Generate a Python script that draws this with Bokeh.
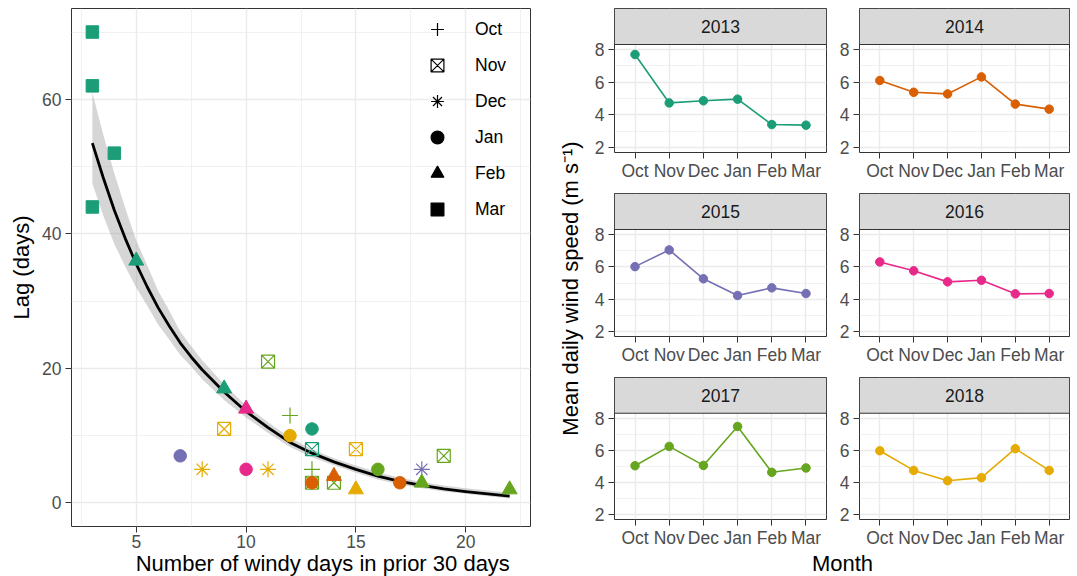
import math
from bokeh.plotting import figure
from bokeh.models import Range1d, FixedTicker, Legend, LegendItem, Label, BoxAnnotation
from bokeh.layouts import row, column
from bokeh.embed import file_html
from bokeh.resources import INLINE

FONT = "Liberation Sans"

# ---------------- data ----------------
years = [2013, 2014, 2015, 2016, 2017, 2018]
months = ["Oct", "Nov", "Dec", "Jan", "Feb", "Mar"]
year_colors = ["#1B9E77", "#D95F02", "#7570B3", "#E7298A", "#66A61E", "#E6AB02"]

# left panel: lag vs windy days
lag_windy = [3, 3, 4, 3, 5, 9, 11, 10, 12, 9, 12, 13, 13, 15, 7, 19, 8, 10, 11, 13,
             16, 18, 14, 13, 13, 14, 15, 17, 18, 22]
lag_days = [70, 62, 52, 44, 36, 17, 21, 14, 13, 11, 10, 11, 8, 8, 7, 7, 5, 5, 5, 5,
            5, 5, 4, 3, 3, 3, 2, 3, 3, 2]
lag_year = [2013, 2013, 2013, 2013, 2013, 2013, 2017, 2016, 2017, 2018, 2018, 2013, 2013, 2018,
            2015, 2017, 2018, 2016, 2018, 2017, 2017, 2015, 2014, 2014, 2017, 2017, 2018, 2014,
            2017, 2017]
lag_month = ["Mar", "Mar", "Mar", "Mar", "Feb", "Feb", "Nov", "Feb", "Oct", "Nov", "Jan", "Jan",
             "Nov", "Nov", "Jan", "Nov", "Dec", "Jan", "Dec", "Oct", "Jan", "Dec", "Feb", "Jan",
             "Nov", "Nov", "Feb", "Jan", "Feb", "Feb"]

# fitted curve and confidence band
fit_windy = [3, 3.5, 4, 4.5, 5, 5.5, 6, 6.5, 7, 7.5, 8, 9, 10, 11, 12, 13, 14, 15, 16, 17,
             18, 19, 20, 21, 22]
fit_lag = [53.5, 48.3, 43.5, 39.3, 35.5, 32.1, 29.0, 26.3, 23.8, 21.7, 19.8, 16.5, 13.6, 11.2,
           9.0, 7.4, 6.1, 5.0, 4.0, 3.2, 2.6, 2.1, 1.7, 1.35, 1.0]
fit_upper = [61.0, 54.7, 49.0, 43.8, 39.0, 35.3, 31.5, 28.6, 25.5, 23.3, 21.2, 17.6, 14.5, 12.0,
             9.7, 8.0, 6.65, 5.55, 4.55, 3.75, 3.1, 2.6, 2.2, 1.85, 1.5]
fit_lower = [47.5, 42.7, 38.5, 35.1, 32.0, 29.3, 26.5, 24.3, 22.0, 20.3, 18.4, 15.3, 12.7, 10.4,
             8.3, 6.8, 5.6, 4.5, 3.5, 2.75, 2.2, 1.7, 1.35, 1.0, 0.65]

# right panels: mean daily wind speed by month
wind_2013 = [7.69, 4.73, 4.86, 4.96, 3.41, 3.37]
wind_2014 = [6.10, 5.38, 5.28, 6.32, 4.66, 4.35]
wind_2015 = [6.01, 7.04, 5.26, 4.23, 4.70, 4.35]
wind_2016 = [6.30, 5.75, 5.07, 5.17, 4.33, 4.35]
wind_2017 = [5.04, 6.24, 5.06, 7.48, 4.63, 4.90]
wind_2018 = [5.97, 4.75, 4.11, 4.30, 6.10, 4.75]
wind_all = [wind_2013, wind_2014, wind_2015, wind_2016, wind_2017, wind_2018]

# ---------------- styles ----------------
marker_style = {
    "Oct": ("cross", 16, False),
    "Nov": ("square_x", 13, False),
    "Dec": ("asterisk", 16, False),
    "Jan": ("circle", 12.5, True),
    "Feb": ("triangle", 15, True),
    "Mar": ("square", 12.5, True),
}
color_of = dict(zip(years, year_colors))
TICK_FS = "17.5px"
TITLE_FS = "22px"


def style_axes(p, xt, xminor, yt, yminor):
    p.xaxis.ticker = FixedTicker(ticks=xt, minor_ticks=xminor)
    p.yaxis.ticker = FixedTicker(ticks=yt, minor_ticks=yminor)
    for ax in p.axis:
        ax.axis_line_color = None
        ax.major_tick_line_color = "#333333"
        ax.major_tick_line_width = 1
        ax.major_tick_out = 6
        ax.major_tick_in = 0
        ax.minor_tick_line_color = None
        ax.major_label_text_font = FONT
        ax.major_label_text_font_size = TICK_FS
        ax.major_label_text_color = "#4D4D4D"
        ax.major_label_standoff = 4
        ax.axis_label_text_font = FONT
        ax.axis_label_text_font_size = TITLE_FS
        ax.axis_label_text_font_style = "normal"
        ax.axis_label_text_color = "black"
    p.xaxis.major_label_standoff = 2
    for g in p.grid:
        g.grid_line_color = "#EBEBEB"
        g.grid_line_width = 1.4
        g.minor_grid_line_color = "#EBEBEB"
        g.minor_grid_line_width = 0.7
    p.outline_line_color = "#333333"
    p.outline_line_width = 1
    p.background_fill_color = "white"
    p.border_fill_color = "white"


def text_fig(w, h, lab):
    f = figure(width=w, height=h, x_range=Range1d(0, w), y_range=Range1d(0, h),
               output_backend="svg", toolbar_location=None, x_axis_type=None, y_axis_type=None,
               min_border=0, outline_line_color=None)
    f.add_layout(lab)
    return f


# ---------------- left panel ----------------
left = figure(width=548, height=552, x_range=Range1d(2.05, 22.95), y_range=Range1d(-3.5, 73.5),
              output_backend="svg", toolbar_location=None,
              min_border_left=71, min_border_right=18, min_border_top=8, min_border_bottom=26)
style_axes(left, [5, 10, 15, 20], [2.5, 7.5, 12.5, 17.5, 22.5], [0, 20, 40, 60], [10, 30, 50, 70])
left.yaxis.axis_label = "Lag (days)"
left.yaxis.axis_label_standoff = 5

left.varea(x=fit_windy, y1=fit_lower, y2=fit_upper, fill_color="#999999", fill_alpha=0.4)
left.line(x=fit_windy, y=fit_lag, line_color="black", line_width=2.8, line_join="round")

for m in months:
    mk, sz, filled = marker_style[m]
    idx = [i for i, mm in enumerate(lag_month) if mm == m]
    xs = [lag_windy[i] for i in idx]
    ys = [lag_days[i] for i in idx]
    cs = [color_of[lag_year[i]] for i in idx]
    if filled:
        left.scatter(x=xs, y=ys, marker=mk, size=sz, fill_color=cs, line_color=cs, line_width=1)
    else:
        left.scatter(x=xs, y=ys, marker=mk, size=sz, fill_color=None, line_color=cs, line_width=1.2)

items = []
for m in months:
    mk, sz, filled = marker_style[m]
    r = left.scatter(x=[float("nan")], y=[float("nan")], marker=mk, size=sz, line_color="black",
                     fill_color="black" if filled else None, line_width=1.2)
    items.append(LegendItem(label=m, renderers=[r]))
legend = Legend(items=items, location=(350, 301), padding=0, margin=0, spacing=4,
                glyph_height=32, glyph_width=32, label_height=32, label_standoff=22,
                label_text_font=FONT, label_text_font_size=TICK_FS, label_text_color="black",
                background_fill_alpha=0, border_line_alpha=0)
left.add_layout(legend)

xtitle = text_fig(548, 24, Label(x=300, y=13, text="Number of windy days in prior 30 days",
                                 text_align="center", text_baseline="middle", text_font=FONT,
                                 text_font_size=TITLE_FS, text_color="black"))
left_block = column(left, xtitle)

# ---------------- y-label strip ----------------
ylab = text_fig(36, 576, Label(x=22, y=288, text="Mean daily wind speed (m s\u207b\u00b9)",
                               angle=math.pi / 2, text_align="center", text_baseline="middle",
                               text_font=FONT, text_font_size=TITLE_FS, text_color="black"))

# ---------------- facets (strip drawn inside each figure) ----------------
col_w = [252, 241]
col_left = [30, 22]
col_right = [10, 8]
STRIP = 36
panel_px = [108, 107, 107]
top_border = [8, 0, 0]
bottom_border = [41, 41, 30]
YLO, YHI = 1.7, 8.3
month_pos = [i + 1 for i in range(len(months))]

cols = [[], []]
for k, yr in enumerate(years):
    ri, ci = divmod(k, 2)
    c = year_colors[k]
    y_top = YHI + STRIP * (YHI - YLO) / panel_px[ri]
    h = top_border[ri] + STRIP + panel_px[ri] + bottom_border[ri]
    p = figure(width=col_w[ci], height=h, x_range=Range1d(0.4, 6.6), y_range=Range1d(YLO, y_top),
               output_backend="svg", toolbar_location=None,
               min_border_left=col_left[ci], min_border_right=col_right[ci],
               min_border_top=top_border[ri], min_border_bottom=bottom_border[ri])
    style_axes(p, month_pos, [], [2, 4, 6, 8], [3, 5, 7])
    p.xaxis.major_label_overrides = {pos: m for pos, m in zip(month_pos, months)}
    p.line(x=month_pos, y=wind_all[k], line_color=c, line_width=1.6)
    p.scatter(x=month_pos, y=wind_all[k], marker="circle", size=8.5, fill_color=c, line_color=c)
    p.add_layout(BoxAnnotation(bottom=YHI, top=y_top, fill_color="#D9D9D9", fill_alpha=1,
                               line_color="#333333", line_width=1, line_alpha=1))
    p.add_layout(Label(x=3.5, y=(YHI + y_top) / 2, text=str(yr), text_align="center",
                       text_baseline="middle", text_font=FONT, text_font_size=TICK_FS,
                       text_color="#1A1A1A"))
    cols[ci].append(p)

month_fig = text_fig(493, 26, Label(x=258, y=13, text="Month", text_align="center",
                                    text_baseline="middle", text_font=FONT,
                                    text_font_size=TITLE_FS, text_color="black"))

right = column(row(column(*cols[0]), column(*cols[1])), month_fig)
layout = row(left_block, ylab, right)

open("out.html", "w").write(file_html(layout, INLINE))
